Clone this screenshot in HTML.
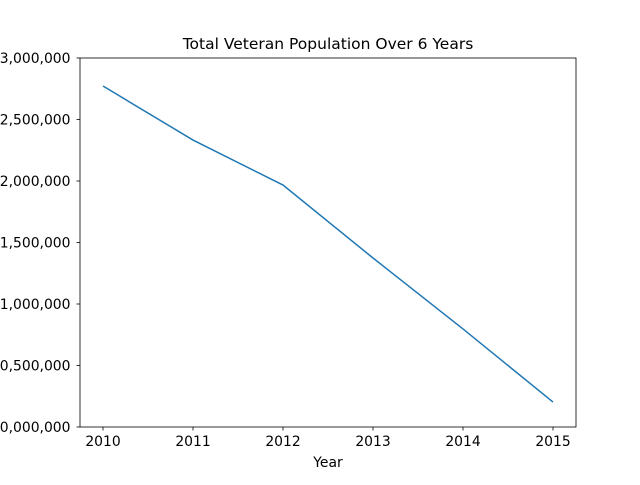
<!DOCTYPE html>
<html><head><meta charset="utf-8"><style>
body{margin:0;background:#fff;}
svg text{font-family:"DejaVu Sans","Liberation Sans",sans-serif;font-size:13.9px;fill:#000;}
</style></head><body>
<svg id="chart" width="640" height="480">
<text x="328" y="49" text-anchor="middle" style="font-size:15.5px">Total Veteran Population Over 6 Years</text>
<g id="axes"></g>
<text x="328" y="467" text-anchor="middle">Year</text>
</svg>
<script>
const years=[2010,2011,2012,2013,2014,2015];
const population=[22772000,22333000,21967000,21374000,20797000,20203000];
const yTicks=[20000000,20500000,21000000,21500000,22000000,22500000,23000000];
const L=80,R=576,T=58,B=427,ymin=20000000,ymax=23000000;
const xs=v=>103+(v-2010)*90;
const ys=v=>B-(v-ymin)/(ymax-ymin)*(B-T);
const g=document.getElementById('axes');
const NS='http://www.w3.org/2000/svg';
function mk(t,a){const e=document.createElementNS(NS,t);for(const k in a)e.setAttribute(k,a[k]);g.appendChild(e);return e;}
const frame=mk('rect',{x:L,y:T,width:R-L,height:B-T,fill:'none',stroke:'#000','stroke-width':0.8});


years.forEach(y=>{
 const tk=mk('line',{x1:xs(y),x2:xs(y),y1:B,y2:B+3.5,stroke:'#000','stroke-width':0.8});
 
 
 const tx=mk('text',{x:xs(y),y:B+19,'text-anchor':'middle'});tx.textContent=y;
 
 
});
yTicks.forEach(v=>{
 const tk=mk('line',{x1:L-3.5,x2:L,y1:ys(v),y2:ys(v),stroke:'#000','stroke-width':0.8});
 
 
 const tx=mk('text',{x:L-9.5,y:ys(v)+5,'text-anchor':'end'});tx.textContent=v.toLocaleString('en-US');
 
 
});
const line=mk('polyline',{points:years.map((y,i)=>xs(y)+','+ys(population[i])).join(' '),fill:'none',stroke:'#1f77b4','stroke-width':1.5});


</script>
</body></html>
